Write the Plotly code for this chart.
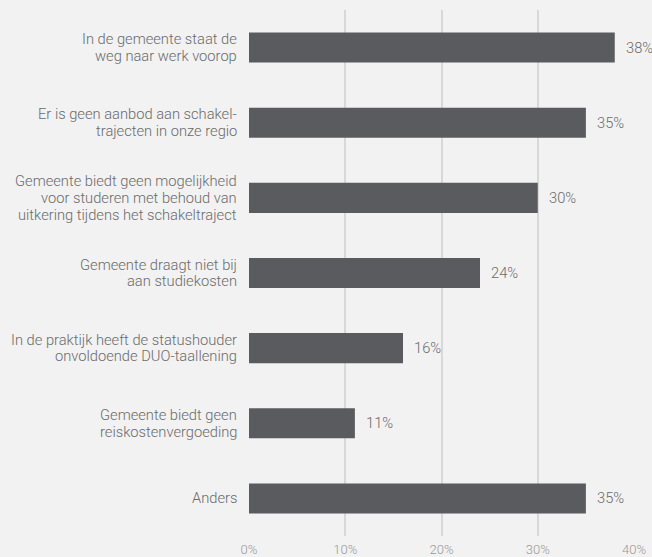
import plotly.graph_objects as go

categories = [
    "In de gemeente staat de<br>weg naar werk voorop",
    "Er is geen aanbod aan schakel-<br>trajecten in onze regio",
    "Gemeente biedt geen mogelijkheid<br>voor studeren met behoud van<br>uitkering tijdens het schakeltraject",
    "Gemeente draagt niet bij<br>aan studiekosten",
    "In de praktijk heeft de statushouder<br>onvoldoende DUO-taallening",
    "Gemeente biedt geen<br>reiskostenvergoeding",
    "Anders",
]
values = [38, 35, 30, 24, 16, 11, 35]
tick_vals = [0, 10, 20, 30, 40]
tick_text = ["0%", "10%", "20%", "30%", "40%"]

text_color = "#6b6b6b"
font_family = "Roboto"
label_size = 14.7
line_height = 16.7

fig = go.Figure()
fig.add_trace(go.Bar(
    y=categories,
    x=values,
    orientation="h",
    width=0.4,
    marker=dict(color="#5a5b5e", line=dict(width=0)),
    hoverinfo="skip",
))

# value labels
for c, v in zip(categories, values):
    fig.add_annotation(
        x=v, y=c, text=f"{v}%", showarrow=False,
        xanchor="left", xshift=9, yanchor="middle",
        font=dict(family=font_family, size=label_size, color=text_color, weight=300),
    )

# category labels (one annotation per line for tighter line spacing)
for c in categories:
    lines = c.split("<br>")
    n = len(lines)
    for i, ln in enumerate(lines):
        fig.add_annotation(
            x=0, xref="paper", y=c, yref="y", text=ln, showarrow=False,
            xanchor="right", yanchor="middle", xshift=-10,
            yshift=((n - 1) / 2 - i) * line_height,
            font=dict(family=font_family, size=label_size, color=text_color, weight=300),
        )

fig.update_layout(
    width=652, height=557,
    margin=dict(l=249, r=18, t=10, b=21, autoexpand=False),
    paper_bgcolor="#f2f2f2",
    plot_bgcolor="#f2f2f2",
    showlegend=False,
    font=dict(family=font_family, size=label_size, color=text_color, weight=300),
    xaxis=dict(
        range=[0, 40],
        tickvals=tick_vals,
        ticktext=tick_text,
        showgrid=True,
        gridcolor="#d8d8d8",
        gridwidth=2,
        zeroline=False,
        showline=False,
        ticks="",
        ticklabelstandoff=4,
        automargin=False,
        tickfont=dict(size=13, color="#999999", weight=300),
        fixedrange=True,
    ),
    yaxis=dict(
        autorange="reversed",
        showgrid=False,
        zeroline=False,
        showline=False,
        ticks="",
        showticklabels=False,
        automargin=False,
        fixedrange=True,
    ),
)

fig.write_html(
    "out.html",
    config={"displayModeBar": False},
    post_script="document.body.style.margin='0';document.body.style.background='#f2f2f2';",
)
